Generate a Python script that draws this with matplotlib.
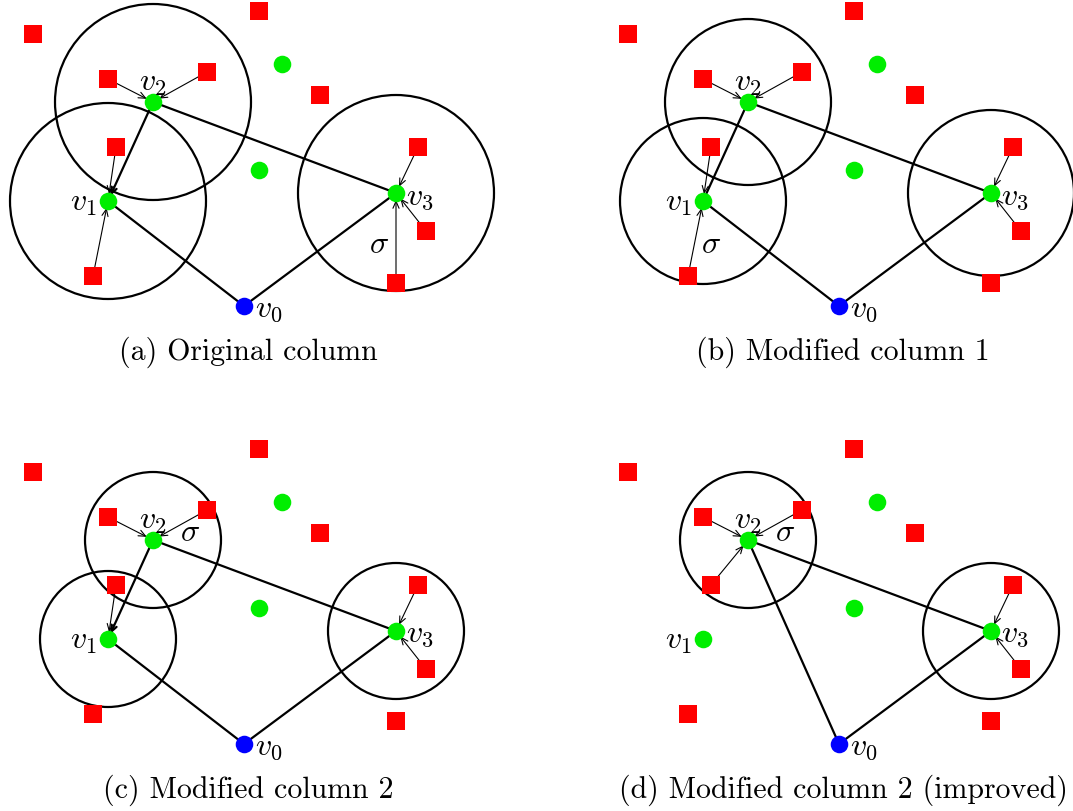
import matplotlib.pyplot as plt
from matplotlib.patches import Circle

plt.rcParams['mathtext.fontset'] = 'cm'

# panel-local coordinates (pixels, y pointing down)
red_x = [33, 259, 108, 207, 320, 116, 418, 426, 93, 396]
red_y = [35, 12, 80, 73, 96, 148, 148, 232, 277, 284]
extra_green_x = [282, 259]
extra_green_y = [65, 171]
v_x = [244, 108, 153, 396]   # v0 .. v3
v_y = [307, 202, 103, 194]

captions = ["(a) Original column", "(b) Modified column 1",
            "(c) Modified column 2", "(d) Modified column 2 (improved)"]
radius = [98, 83, 68, 68]
circled = [[1, 2, 3], [1, 2, 3], [1, 2, 3], [2, 3]]
pulls = [
    [(2, 2), (3, 2), (5, 1), (8, 1), (6, 3), (7, 3), (9, 3)],
    [(2, 2), (3, 2), (5, 1), (8, 1), (6, 3), (7, 3)],
    [(2, 2), (3, 2), (5, 1), (6, 3), (7, 3)],
    [(2, 2), (3, 2), (5, 2), (6, 3), (7, 3)],
]
tour_lines = [
    [(1, 0), (0, 3), (3, 2)],
    [(1, 0), (0, 3), (3, 2), (2, 1)],
    [(1, 0), (0, 3), (3, 2)],
    [(2, 0), (0, 3), (3, 2)],
]
tour_arrows = [[(2, 1)], [], [(2, 1)], []]
sigma_pos = [(379, 245), (116, 245), (190, 95), (190, 95)]

# panel offsets in the figure (pixels)
offsets = [(0, 0), (595, 0), (0, 438), (595, 438)]

W, H = 1073, 812
PW, PH = 478, 372
fig = plt.figure(figsize=(W / 100, H / 100), dpi=100)

label_off = {0: (25, 2), 1: (-25, 1), 2: (0, -20), 3: (24, 2)}

for p in range(4):
    ox, oy = offsets[p]
    ax = fig.add_axes([ox / W, 1 - (oy + PH) / H, PW / W, PH / H])
    ax.set_xlim(0, PW)
    ax.set_ylim(PH, 0)
    ax.axis('off')

    for vi in circled[p]:
        ax.add_patch(Circle((v_x[vi], v_y[vi]), radius[p], fill=False,
                            lw=1.6, ec='black', clip_on=False, zorder=2))

    for a, b in tour_lines[p]:
        ax.plot([v_x[a], v_x[b]], [v_y[a], v_y[b]], color='black', lw=1.6,
                solid_capstyle='round', zorder=3, clip_on=False)
    for a, b in tour_arrows[p]:
        ax.annotate('', xy=(v_x[b], v_y[b]), xytext=(v_x[a], v_y[a]),
                    arrowprops=dict(arrowstyle='->,head_length=0.45,head_width=0.2',
                                    lw=1.6, color='black', shrinkA=3, shrinkB=4),
                    zorder=3)

    for s, vi in pulls[p]:
        ax.annotate('', xy=(v_x[vi], v_y[vi]), xytext=(red_x[s], red_y[s]),
                    arrowprops=dict(arrowstyle='->,head_length=0.5,head_width=0.22',
                                    lw=0.8, color='black', shrinkA=5, shrinkB=5),
                    zorder=3)

    ax.scatter(red_x, red_y, marker='s', s=160, color='#ff0000',
               linewidths=0, zorder=4, clip_on=False)
    ax.scatter(extra_green_x, extra_green_y, s=160, color='#00ee00',
               linewidths=0, zorder=4, clip_on=False)
    ax.scatter(v_x[1:], v_y[1:], s=160, color='#00ee00',
               linewidths=0, zorder=4, clip_on=False)
    ax.scatter(v_x[:1], v_y[:1], s=160, color='#0000ff',
               linewidths=0, zorder=4, clip_on=False)

    for vi in range(4):
        dx, dy = label_off[vi]
        ax.text(v_x[vi] + dx, v_y[vi] + dy, '$v_%d$' % vi, fontsize=23,
                ha='center', va='center', zorder=5)

    ax.text(sigma_pos[p][0], sigma_pos[p][1], r'$\sigma$', fontsize=23,
            ha='center', va='center', zorder=5)

    ax.text(248, 352, captions[p], fontsize=21.5, family='cmr10',
            ha='center', va='center')

fig.savefig('out.png', dpi=100)
